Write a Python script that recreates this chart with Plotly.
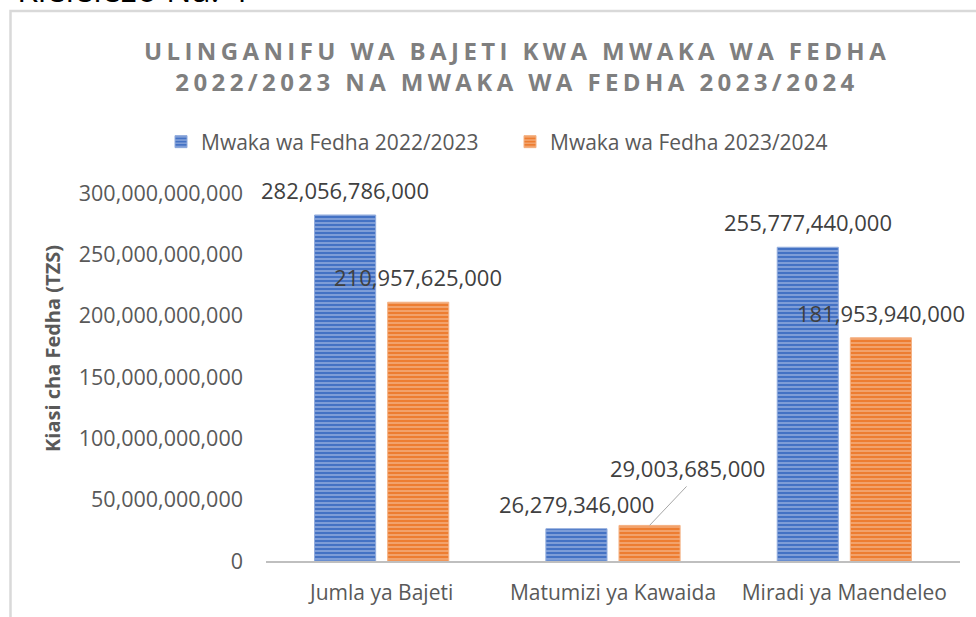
import plotly.graph_objects as go

# ---------------- data ----------------
categories = ["Jumla ya Bajeti", "Matumizi ya Kawaida", "Miradi ya Maendeleo"]
series_names = ["Mwaka wa Fedha 2022/2023", "Mwaka wa Fedha 2023/2024"]
fy_2022_2023 = [282056786000, 26279346000, 255777440000]
fy_2023_2024 = [210957625000, 29003685000, 181953940000]
y_ticks = [0, 50e9, 100e9, 150e9, 200e9, 250e9, 300e9]

title_text = ("ULINGANIFU WA BAJETI KWA MWAKA WA FEDHA<br>"
              "2022/2023 NA MWAKA WA FEDHA 2023/2024")
y_title = "Kiasi cha Fedha (TZS)"
caption_text = "Kielelezo Na. 4"

# ---------------- layout geometry ----------------
W, H = 976, 617
L, R, T, B = 266, 16, 193, 56
PW, PH = W - L - R, H - T - B


def px_x(px):
    return (px - L) / PW


def px_y(py):
    return (H - B - py) / PH


FONT = "Open Sans"
BLUE, ORANGE = "#4472C4", "#ED7D31"
BARGAP = 0.368
OFFSET = (1 - BARGAP) / 4

fig = go.Figure()
fig.add_trace(go.Bar(
    x=categories, y=fy_2022_2023, name=series_names[0],
    marker=dict(color=BLUE, line=dict(color="#8FAADC", width=1),
                pattern=dict(shape="-", bgcolor=BLUE, fgcolor="#D6E0F3",
                             size=4, solidity=0.4)),
))
fig.add_trace(go.Bar(
    x=categories, y=fy_2023_2024, name=series_names[1],
    marker=dict(color=ORANGE, line=dict(color="#F4B183", width=1),
                pattern=dict(shape="-", bgcolor=ORANGE, fgcolor="#FBD9C3",
                             size=4, solidity=0.4)),
))

LABEL_FONT = dict(family=FONT, size=22, color="#404040")
annotations = []
shapes = []
# data labels
for i, v in enumerate(fy_2022_2023):
    annotations.append(dict(x=i - OFFSET, y=v, xref="x", yref="y",
                            xanchor="center", yanchor="middle",
                            text=f"{v:,}", showarrow=False, yshift=25,
                            font=LABEL_FONT))
for i, v in enumerate(fy_2023_2024):
    if i == 1:
        # label moved up/right with a leader line to the bar top
        annotations.append(dict(x=i + OFFSET, y=v, xref="x", yref="y",
                                xanchor="center", yanchor="middle",
                                text=f"{v:,}", showarrow=False,
                                xshift=38, yshift=57, font=LABEL_FONT))
        shapes.append(dict(type="line", xref="x", yref="y",
                           xsizemode="pixel", ysizemode="pixel",
                           xanchor=i + OFFSET, yanchor=v,
                           x0=0, y0=0, x1=37, y1=39,
                           line=dict(color="#A6A6A6", width=1)))
    else:
        annotations.append(dict(x=i + OFFSET, y=v, xref="x", yref="y",
                                xanchor="center", yanchor="middle",
                                text=f"{v:,}", showarrow=False, yshift=25,
                                font=LABEL_FONT))

# y axis title
annotations.append(dict(x=px_x(52), y=px_y(348), xref="paper", yref="paper",
                        xanchor="center", yanchor="middle",
                        text=f"<b>{y_title}</b>", textangle=-90, showarrow=False,
                        font=dict(family=FONT, size=20, color="#595959")))
# cut-off caption at the top
annotations.append(dict(x=px_x(15), y=px_y(14), xref="paper", yref="paper",
                        xanchor="left", yanchor="bottom", text=caption_text,
                        showarrow=False,
                        font=dict(family=FONT, size=34, color="#000000")))

# chart frame
shapes.append(dict(type="rect", xref="paper", yref="paper",
                   x0=px_x(10.5), x1=px_x(1000), y0=px_y(640), y1=px_y(11),
                   line=dict(color="#D9D9D9", width=2.5), fillcolor="rgba(0,0,0,0)",
                   layer="below"))

fig.update_layout(
    width=W, height=H, autosize=False,
    margin=dict(l=L, r=R, t=T, b=B, pad=0, autoexpand=False),
    paper_bgcolor="white", plot_bgcolor="white",
    barmode="group", bargap=BARGAP, bargroupgap=0.164,
    title=dict(text=f"<b>{title_text}</b>", x=517 / W, xanchor="center",
               xref="container", y=1 - 60 / H, yanchor="middle", yref="container",
               font=dict(family=FONT, size=24, color="#7F7F7F")),
    legend=dict(orientation="h", x=px_x(161), xanchor="left",
                y=px_y(142), yanchor="middle", entrywidth=304,
                font=dict(family=FONT, size=21, color="#595959"),
                bgcolor="rgba(0,0,0,0)", itemwidth=30),
    xaxis=dict(type="category", range=[-0.5, len(categories) - 0.5],
               showline=True, linecolor="#BFBFBF", linewidth=2,
               showgrid=False, ticks="", ticklabelstandoff=12, automargin=False,
               tickfont=dict(family=FONT, size=21, color="#595959")),
    yaxis=dict(range=[0, 300e9], tickvals=y_ticks, tickformat=",.0f",
               showgrid=False, zeroline=False, showline=False, ticks="",
               ticklabelstandoff=22, automargin=False,
               tickfont=dict(family=FONT, size=21.5, color="#595959")),
    annotations=annotations,
    shapes=shapes,
    showlegend=True,
)

post = ("var s=document.createElement('style');"
        "s.textContent='html,body{margin:0;padding:0;overflow:hidden}"
        ".gtitle{letter-spacing:4.4px}';"
        "document.head.appendChild(s);")

fig.write_html("out.html", post_script=post, config={"displayModeBar": False})
